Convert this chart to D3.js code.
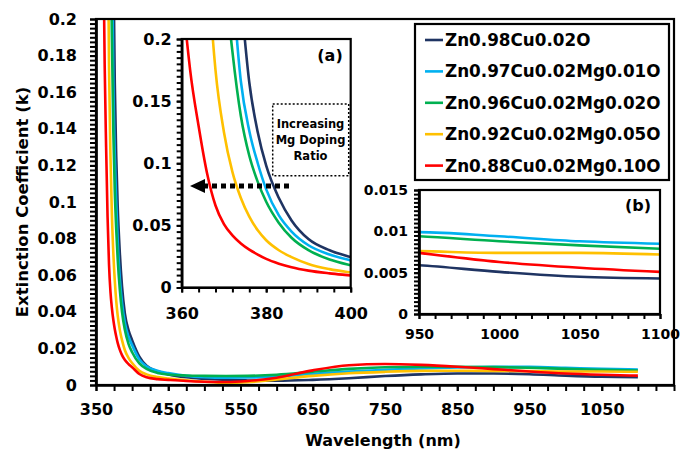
<!DOCTYPE html>
<html>
<head>
<meta charset="utf-8">
<script src="https://cdn.jsdelivr.net/npm/d3@7"></script>
<style>
  body { margin: 0; background: #fff; }
  text { font-family: "DejaVu Sans", sans-serif; font-weight: bold; fill: #000; }
</style>
</head>
<body>
<svg id="chart" width="683" height="450"></svg>
<script>
// data (wavelength in nm, extinction coefficient k)
const wavelength = [355, 358, 360, 362, 364, 366, 368, 370, 372, 374, 376, 378, 380, 383, 386, 390, 395, 400,
  410, 420, 435, 450, 475, 500, 530, 560, 600, 650, 700, 750, 800, 850, 900, 950, 1000, 1050, 1100];
const kCu = [3.0, 1.8, 1.3, 0.95, 0.75, 0.6, 0.5, 0.43, 0.32, 0.235, 0.165, 0.125, 0.098, 0.072, 0.054, 0.039, 0.030, 0.0245,
  0.0155, 0.0105, 0.0075, 0.0058, 0.0042, 0.0034, 0.0028, 0.0025, 0.0023, 0.0028, 0.0037, 0.0049, 0.0058, 0.0063, 0.0063, 0.0059, 0.0051, 0.0045, 0.0043];
const kMg01 = [2.5, 1.5, 1.1, 0.8, 0.7, 0.56, 0.45, 0.34, 0.245, 0.166, 0.126, 0.100, 0.079, 0.058, 0.045, 0.034, 0.0265, 0.0218,
  0.0140, 0.0102, 0.0078, 0.0065, 0.0050, 0.0043, 0.0040, 0.0041, 0.0046, 0.0060, 0.0074, 0.0083, 0.0090, 0.0096, 0.0099, 0.0099, 0.0094, 0.0088, 0.0085];
const kMg02 = [2.0, 1.2, 0.9, 0.72, 0.6, 0.5, 0.38, 0.26, 0.19, 0.138, 0.106, 0.085, 0.069, 0.052, 0.040, 0.030, 0.0225, 0.0179,
  0.0118, 0.0088, 0.0066, 0.0057, 0.0052, 0.0050, 0.0049, 0.0050, 0.0056, 0.0072, 0.0088, 0.0097, 0.0100, 0.0100, 0.0098, 0.0094, 0.0088, 0.0083, 0.0079];
const kMg05 = [1.5, 0.9, 0.7, 0.56, 0.42, 0.27, 0.175, 0.125, 0.093, 0.072, 0.057, 0.046, 0.038, 0.030, 0.0245, 0.019, 0.0148, 0.0120,
  0.0078, 0.0058, 0.0043, 0.0035, 0.0026, 0.0018, 0.0012, 0.0015, 0.0030, 0.0050, 0.0064, 0.0072, 0.0077, 0.0078, 0.0077, 0.0076, 0.0074, 0.0074, 0.0072];
const kMg10 = [0.55, 0.35, 0.245, 0.175, 0.130, 0.092, 0.066, 0.051, 0.042, 0.0355, 0.0305, 0.0265, 0.023, 0.0192, 0.0163, 0.0136, 0.0114, 0.0097,
  0.0060, 0.0042, 0.0032, 0.0028, 0.0022, 0.0018, 0.0016, 0.0022, 0.0040, 0.0080, 0.0108, 0.0115, 0.0110, 0.0100, 0.0087, 0.0074, 0.0063, 0.0056, 0.0051];

const seriesNames = ["Zn0.98Cu0.02O", "Zn0.97Cu0.02Mg0.01O", "Zn0.96Cu0.02Mg0.02O", "Zn0.92Cu0.02Mg0.05O", "Zn0.88Cu0.02Mg0.10O"];
const seriesColors = ["#1f3462", "#00b0f0", "#00b050", "#ffc000", "#ff0000"];

// tick values
const mainXLabels = [350, 450, 550, 650, 750, 850, 950, 1050];
const mainYLabels = [0, 0.02, 0.04, 0.06, 0.08, 0.1, 0.12, 0.14, 0.16, 0.18, 0.2];
const insetAXLabels = [360, 380, 400];
const insetAYLabels = [0, 0.05, 0.1, 0.15, 0.2];
const insetBXLabels = [950, 1000, 1050, 1100];
const insetBYLabels = [0, 0.005, 0.01, 0.015];

var series = seriesNames.map(function(n, i) {
  return { name: n, color: seriesColors[i], values: [kCu, kMg01, kMg02, kMg05, kMg10][i] };
});

var svg = d3.select("#chart");
var defs = svg.append("defs");

function plotLines(g, x, y, clipId) {
  defs.append("clipPath").attr("id", clipId).append("rect")
    .attr("x", x.range()[0]).attr("y", y.range()[1])
    .attr("width", x.range()[1] - x.range()[0]).attr("height", y.range()[0] - y.range()[1]);
  var line = d3.line().curve(d3.curveMonotoneX)
    .x(function(d) { return x(d[0]); })
    .y(function(d) { return y(d[1]); });
  g.append("g").attr("clip-path", "url(#" + clipId + ")")
    .selectAll("path").data(series).enter().append("path")
    .attr("d", function(s) { return line(wavelength.map(function(w, i) { return [w, s.values[i]]; })); })
    .attr("fill", "none")
    .attr("stroke", function(s) { return s.color; })
    .attr("stroke-width", 2.6);
}

function addAxes(g, x, y, o) {
  var y0 = y.range()[0], x0 = x.range()[0];
  // minor ticks
  g.append("g").attr("transform", "translate(0," + y0 + ")")
    .call(d3.axisBottom(x).tickValues(d3.range(x.domain()[0], x.domain()[1] + 0.001, o.xStep)).tickSize(o.tick).tickSizeOuter(0).tickFormat(""));
  g.append("g").attr("transform", "translate(" + x0 + ",0)")
    .call(d3.axisLeft(y).tickValues(d3.range(0, y.domain()[1] + 1e-9, o.yStep)).tickSize(o.tick).tickSizeOuter(0).tickFormat(""));
  // labelled ticks
  var xa = g.append("g").attr("transform", "translate(0," + y0 + ")")
    .call(d3.axisBottom(x).tickValues(o.xLabels).tickSize(o.tick).tickSizeOuter(0).tickPadding(o.xPad).tickFormat(d3.format("~g")));
  var ya = g.append("g").attr("transform", "translate(" + x0 + ",0)")
    .call(d3.axisLeft(y).tickValues(o.yLabels).tickSize(o.tick).tickSizeOuter(0).tickPadding(o.yPad).tickFormat(d3.format("~g")));
  g.selectAll(".domain").attr("stroke", "#000").attr("stroke-width", 2.2);
  g.selectAll(".tick line").attr("stroke", "#000").attr("stroke-width", 2);
  xa.selectAll("text").attr("font-size", o.fx).attr("font-family", null);
  ya.selectAll("text").attr("font-size", o.fy).attr("font-family", null);
  // frame
  g.append("rect").attr("x", x0).attr("y", y.range()[1])
    .attr("width", x.range()[1] - x0).attr("height", y0 - y.range()[1])
    .attr("fill", "none").attr("stroke", "#000").attr("stroke-width", 2.2);
}

// MAIN CHART
var xMain = d3.scaleLinear().domain([350, 1150]).range([96, 674]);
var yMain = d3.scaleLinear().domain([0, 0.2]).range([385, 19]);
var main = svg.append("g");
plotLines(main, xMain, yMain, "clipMain");
addAxes(main, xMain, yMain, { xStep: 25, yStep: 0.0025, tick: 6, xLabels: mainXLabels, yLabels: mainYLabels, xPad: 13, yPad: 13, fx: 16, fy: 16 });

main.append("text").attr("x", 383).attr("y", 446).attr("text-anchor", "middle").attr("font-size", 16).text("Wavelength (nm)");
main.append("text").attr("transform", "translate(28,202) rotate(-90)").attr("text-anchor", "middle").attr("font-size", 16.5).text("Extinction Coefficient (k)");

// INSET (a)
var xA = d3.scaleLinear().domain([360, 400]).range([181.7, 350.7]);
var yA = d3.scaleLinear().domain([0, 0.2]).range([287.5, 39]);
var insetA = svg.append("g");
insetA.append("rect").attr("x", 181.7).attr("y", 39).attr("width", 169).attr("height", 248.5).attr("fill", "#fff");
plotLines(insetA, xA, yA, "clipA");
addAxes(insetA, xA, yA, { xStep: 4, yStep: 0.005, tick: 5, xLabels: insetAXLabels, yLabels: insetAYLabels, xPad: 15, yPad: 5, fx: 16, fy: 16 });
insetA.append("text").attr("x", 330).attr("y", 61).attr("text-anchor", "middle").attr("font-size", 16).text("(a)");

// note box + arrow
insetA.append("rect").attr("x", 272.7).attr("y", 104).attr("width", 76).attr("height", 71.7)
  .attr("fill", "#fff").attr("stroke", "#000").attr("stroke-width", 1.5).attr("stroke-dasharray", "2,2");
insetA.selectAll(".note").data(["Increasing", "Mg Doping", "Ratio"]).enter().append("text")
  .attr("class", "note").attr("x", 310.5).attr("y", function(d, i) { return 128 + i * 16; })
  .attr("text-anchor", "middle").attr("font-size", 11.5).text(function(d) { return d; });
insetA.append("line").attr("x1", 289).attr("x2", 203).attr("y1", 186).attr("y2", 186)
  .attr("stroke", "#000").attr("stroke-width", 5).attr("stroke-dasharray", "5,4");
insetA.append("path").attr("d", "M190,186 L205,179 L205,193 Z").attr("fill", "#000");

// INSET (b)
var xB = d3.scaleLinear().domain([950, 1100]).range([419, 660]);
var yB = d3.scaleLinear().domain([0, 0.015]).range([314, 190]);
var insetB = svg.append("g");
insetB.append("rect").attr("x", 419).attr("y", 190).attr("width", 241).attr("height", 124).attr("fill", "#fff");
plotLines(insetB, xB, yB, "clipB");
addAxes(insetB, xB, yB, { xStep: 10, yStep: 0.0005, tick: 5, xLabels: insetBXLabels, yLabels: insetBYLabels, xPad: 10, yPad: 6, fx: 14, fy: 14 });
insetB.append("text").attr("x", 638).attr("y", 211).attr("text-anchor", "middle").attr("font-size", 16).text("(b)");

// LEGEND
var legend = svg.append("g");
legend.append("rect").attr("x", 415).attr("y", 24).attr("width", 254).attr("height", 156)
  .attr("fill", "#fff").attr("stroke", "#000").attr("stroke-width", 2.2);
var items = legend.selectAll(".item").data(series).enter().append("g")
  .attr("transform", function(d, i) { return "translate(0," + (40 + i * 31.4) + ")"; });
items.append("line").attr("x1", 425).attr("x2", 443).attr("stroke", function(d) { return d.color; }).attr("stroke-width", 2.6);
items.append("text").attr("x", 445).attr("dy", "0.36em").attr("font-size", 16.8).text(function(d) { return d.name; });
</script>
</body>
</html>
